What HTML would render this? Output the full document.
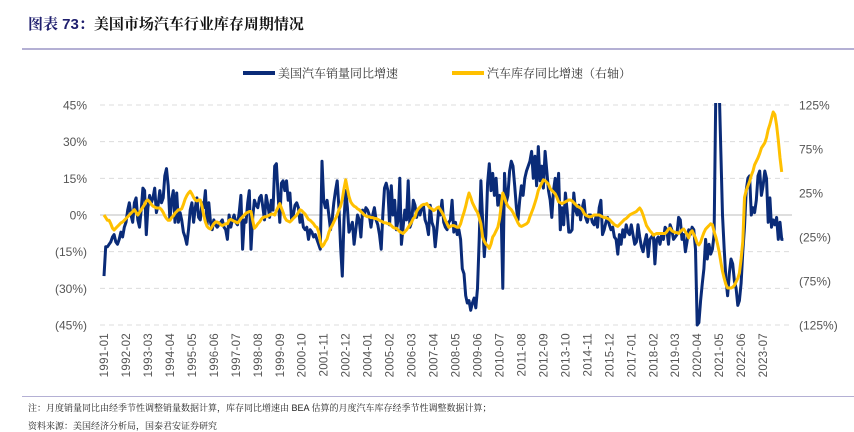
<!DOCTYPE html>
<html><head><meta charset="utf-8"><style>
body{margin:0;width:854px;height:421px;overflow:hidden;background:#fff;font-family:"Liberation Sans","Noto Sans CJK SC",sans-serif;}
.t{position:absolute;white-space:nowrap}
</style></head><body>
<div class="t" style="left:28px;top:13px;font-size:15px;font-weight:bold;font-family:'Liberation Sans','Noto Serif CJK SC',serif;"><span style="color:#1f1f6e">图表 73：</span><span style="color:#111">美国市场汽车行业库存周期情况</span></div>
<div style="position:absolute;left:22px;top:48px;width:832px;height:2px;background:#b4b0d4"></div>
<svg id="chart" width="854" height="421" style="position:absolute;left:0;top:0" xmlns="http://www.w3.org/2000/svg">
<defs><clipPath id="pc"><rect x="95" y="103" width="700" height="228"/></clipPath></defs>
<g id="grid"></g><g id="lines" clip-path="url(#pc)"></g><g id="axes"></g>
<g>
<line x1="243" y1="73" x2="275" y2="73" stroke="#0a2b78" stroke-width="4"/>
<text x="278" y="77.5" font-size="12" fill="#333" font-family="'Liberation Sans','Noto Serif CJK SC',serif">美国汽车销量同比增速</text>
<line x1="452" y1="73" x2="484" y2="73" stroke="#ffc000" stroke-width="4"/>
<text x="487" y="77.5" font-size="12" fill="#333" font-family="'Liberation Sans','Noto Serif CJK SC',serif">汽车库存同比增速（右轴）</text>
</g>
</svg>
<div style="position:absolute;left:22px;top:396px;width:832px;height:1px;background:#b4b0d4"></div>
<div class="t" style="left:28px;top:401px;font-size:9px;color:#222;font-family:'Liberation Sans','Noto Serif CJK SC',serif">注：月度销量同比由经季节性调整销量数据计算，库存同比增速由 BEA 估算的月度汽车库存经季节性调整数据计算；</div>
<div class="t" style="left:28px;top:419px;font-size:9px;color:#222;font-family:'Liberation Sans','Noto Serif CJK SC',serif">资料来源：美国经济分析局，国泰君安证券研究</div>
<script>
const salesYoY = [
-25,-13,-13,-12,-11,-9,-8,-11,-12,-10,-7,-9,
-5,-3,2,5,0,-3,5,7,-2,-5,2,11,
10,-8,3,8,5,7,11,1,4,10,5,7,
16,19,12,-2,6,10,-3,9,-3,1,-2,-7,
-9,-12,-6,2,5,-3,3,7,-1,-2,5,3,
10,-4,5,-3,-6,-2,-4,-5,-4,-3,-2,-5,
-6,-10,0,-5,-2,0,-3,-4,1,8,-14,-2,
-3,5,10,-14,-1,6,4,3,7,8,3,-2,
8,4,-1,6,2,20,21,8,-3,13,14,10,
14,6,9,-2,0,4,5,3,-3,0,-5,-6,
-5,-10,-6,-7,-9,-8,-10,-12,-14,22,6,3,
6,0,-6,-2,5,10,14,3,-13,-25,-2,10,
3,-7,-5,-3,-12,-6,0,-2,-9,2,0,3,
2,0,-5,0,3,-2,-4,-8,-14,0,11,13,
10,-4,12,0,6,-6,-2,15,-12,-5,2,-2,
14,-5,-3,6,4,-1,2,0,3,4,-2,-4,
-8,4,-3,-5,-13,-6,2,0,6,-3,-5,-6,
-3,-2,6,-7,-3,-8,-6,-10,-22,-24,-33,-36,
-35,-39,-36,-34,-38,-30,-10,14,-2,-17,-8,13,
21,10,17,8,15,4,8,2,-30,17,5,8,
18,22,20,12,3,-2,6,12,8,15,18,20,
22,26,15,24,12,28,14,20,11,26,18,10,
6,-1,10,15,8,17,-6,3,-4,9,2,-7,
-7,-6,9,2,0,4,-2,3,6,-1,-3,0,
0,-3,-4,-1,-5,3,6,-8,-6,-3,-1,-4,
-6,-5,-9,-10,-16,-8,-12,-6,-9,-4,-7,-8,
-4,-8,-12,-11,-4,-9,-13,-15,-11,-8,-17,-10,
-9,-8,-20,-10,-9,-12,-8,-10,-5,-6,-12,-4,
-6,-10,-9,-8,-1,-2,-10,-8,-15,-11,-6,-8,
-5,-6,-14,-45,-44,-35,-28,-22,-10,-18,-12,-16,
-14,-8,50,60,52,25,0,-14,-26,-33,-24,-18,
-20,-27,-30,-37,-35,-28,-15,-5,10,15,16,0,
3,1,6,16,18,8,12,18,15,-3,7,-5,
-2,-4,-1,-10,-3,-10,-10];
const inventoryYoY = [
0,-3,-6,-6,-10,-15,-17,-15,-13,-11,-9,-8,-6,-4,-2,0,2,4,6,3,0,3,6,9,12,16,17,15,12,10,9,8,8,8,6,3,-1,-4,-6,-6,-3,-1,2,4,6,6,7,12,18,22,25,27,24,20,17,16,17,17,10,0,-8,-13,-15,-16,-13,-10,-8,-8,-9,-11,-12,-11,-10,-10,-6,-5,-6,-7,-8,-9,-7,-4,-2,0,2,3,4,4,-6,-15,-13,-10,-8,-5,-3,-2,-2,-1,0,1,1,0,
5,9,13,8,3,-3,-6,-7,-8,-6,-4,-2,0,3,6,5,3,1,-2,-5,-6,-8,-10,-13,-14,-19,-30,-36,-34,-30,-27,-20,-15,-12,-8,-4,0,6,10,18,30,40,30,21,15,12,10,9,7,6,4,2,0,-1,-2,-2,-3,-3,-4,-4,-5,-6,-7,-8,-9,-9,-10,-10,-12,-14,-15,-15,-17,-19,-20,-21,-19,-17,-14,-11,-8,-4,-2,4,7,9,11,12,12,13,10,8,7,5,6,8,9,6,3,-1,-6,-10,-14,
-13,-12,-12,-13,-14,-14,-10,-3,3,10,18,25,20,14,10,6,3,-3,-10,-25,-30,-33,-35,-38,-33,-25,-22,-18,-14,-5,10,25,20,14,10,8,6,3,-1,-5,-9,-12,-13,-12,-11,-10,-8,-2,3,8,14,20,28,32,36,40,39,37,35,30,28,26,24,20,15,14,13,14,15,16,17,17,16,14,12,10,9,8,6,2,0,-1,-2,-2,-1,0,0,0,0,-1,-2,-3,-3,-4,-5,-7,-9,-11,-12,-13,-11,-9,-7,-5,
-4,-2,0,1,2,3,4,6,8,5,0,-6,-12,-15,-18,-20,-23,-22,-21,-21,-21,-21,-21,-21,-19,-16,-15,-18,-19,-20,-20,-21,-19,-17,-16,-19,-22,-26,-20,-18,-22,-26,-32,-34,-31,-25,-20,-16,-14,-12,-10,-11,-19,-25,-33,-42,-54,-64,-72,-79,-83,-83,-83,-82,-80,-76,-72,-66,-50,-30,20,28,33,38,45,50,57,61,65,70,76,79,82,88,97,103,110,117,114,102,85,65,49];
const leftTicks = [45,30,15,0,-15,-30,-45];
const leftTickLabels = ["45%","30%","15%","0%","(15%)","(30%)","(45%)"];
const rightTicks = [125,75,25,-25,-75,-125];
const rightTickLabels = ["125%","75%","25%","(25%)","(75%)","(125%)"];
const startYear = 1991;
const labelEvery = 13;

const NS="http://www.w3.org/2000/svg";
const X0=104, DX=1.69, TOP=105, BOT=325;
const xAt = i => X0 + i*DX;
const yL = v => 215 - v*(BOT-TOP)/90;
const yR = v => 215 - v*(BOT-TOP)/250;
function mk(tag, attrs, parent){const e=document.createElementNS(NS,tag);for(const k in attrs)e.setAttribute(k,attrs[k]);parent.appendChild(e);return e;}
const grid=document.getElementById('grid'), axes=document.getElementById('axes'), lines=document.getElementById('lines');
leftTicks.forEach((v,k)=>{
  const y=yL(v);
  const gl=mk('line',{x1:100,x2:792,y1:y,y2:y,stroke:v===0?'#d4d4d4':'#dcdcdc','stroke-width':v===0?1.5:1,'stroke-dasharray':v===0?'none':'5,4'},grid);
  
  
  const t=mk('text',{x:87,y:y+4.5,'text-anchor':'end','font-size':12,fill:'#555'},axes);
  t.textContent=leftTickLabels[k];
  
  
});
rightTicks.forEach((v,k)=>{
  const t=mk('text',{x:799,y:yR(v)+4.5,'font-size':12,fill:'#555'},axes);
  t.textContent=rightTickLabels[k];
  
  
});
for(let i=0;i<salesYoY.length;i+=labelEvery){
  const yr=startYear+Math.floor(i/12), mo=i%12+1;
  const lbl=yr+'-'+(mo<10?'0':'')+mo;
  const x=xAt(i)+4;
  const t=mk('text',{x:x,y:333,'text-anchor':'end','font-size':11.5,fill:'#555',transform:`rotate(-90 ${x} 333)`,'letter-spacing':'0.3'},axes);
  t.textContent=lbl;
  
  
}
function path(arr, yf){return arr.map((v,i)=>(i?'L':'M')+xAt(i).toFixed(1)+' '+yf(v).toFixed(1)).join('');}
const sp=mk('path',{d:path(salesYoY,yL),fill:'none',stroke:'#0a2b78','stroke-width':3,'stroke-linejoin':'round'},lines);


const ip=mk('path',{d:path(inventoryYoY,yR),fill:'none',stroke:'#ffc000','stroke-width':3,'stroke-linejoin':'round'},lines);


</script>
</body></html>
